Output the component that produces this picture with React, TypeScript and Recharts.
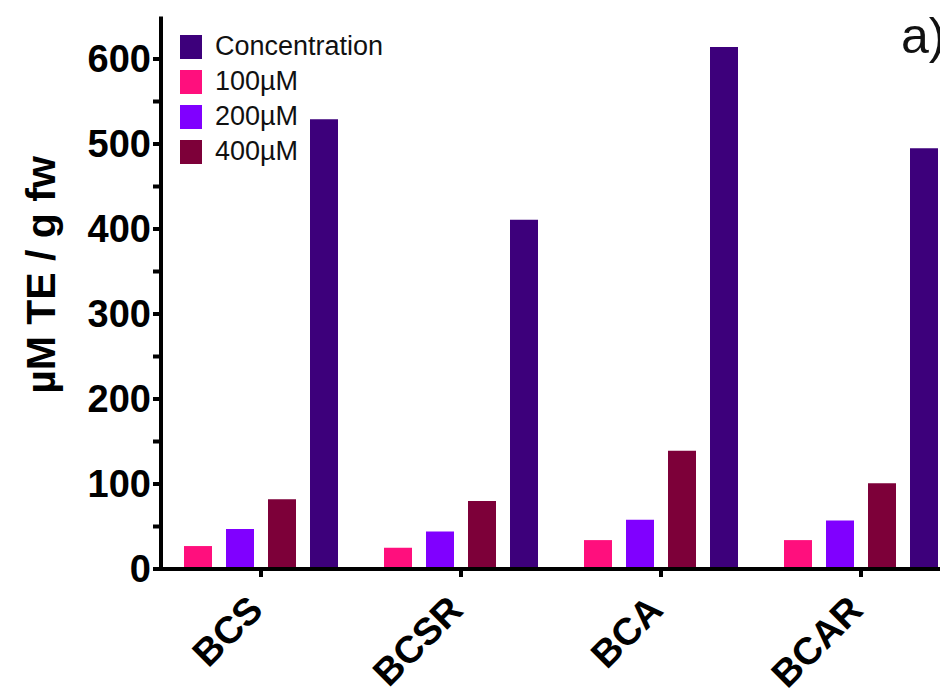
import React from 'react'
import { BarChart, Bar, XAxis, YAxis } from 'recharts'

const categories = ['BCS', 'BCSR', 'BCA', 'BCAR']
const conc100 = [27, 25, 34, 34]
const conc200 = [47, 44, 58, 57]
const conc400 = [82, 80, 139, 101]
const concentration = [529, 411, 614, 495]
const yTicks = [0, 50, 100, 150, 200, 250, 300, 350, 400, 450, 500, 550, 600]

const series = [
  { key: 'c100', name: '100µM', color: '#ff0f7d' },
  { key: 'c200', name: '200µM', color: '#8000ff' },
  { key: 'c400', name: '400µM', color: '#7d0039' },
  { key: 'conc', name: 'Concentration', color: '#3d007b' },
]
const legendOrder = ['conc', 'c100', 'c200', 'c400']

const data = categories.map((name, i) => ({
  name,
  c100: conc100[i],
  c200: conc200[i],
  c400: conc400[i],
  conc: concentration[i],
}))

const FONT = '"Liberation Sans", Arial, Helvetica, sans-serif'

// legend drawn as an overlay so it doesn't eat into the plot area
const ChartLegend = () => (
  <div style={{ position: 'absolute', top: 21, left: 172, fontFamily: FONT }}>
    {legendOrder.map((k) => {
      const s = series.find((x) => x.key === k)!
      return (
        <div key={k} style={{ display: 'flex', alignItems: 'center', height: 35 }}>
          <div style={{ width: 22, height: 24, background: s.color, marginRight: 13 }} />
          <span style={{ fontSize: 27, color: '#111', lineHeight: '35px' }}>{s.name}</span>
        </div>
      )
    })}
  </div>
)

const XTick = (props: any) => {
  const { x, y, payload } = props
  return (
    <g transform={`translate(${x + 4},${y + 33})`}>
      <text
        x={0}
        y={0}
        textAnchor="end"
        transform="rotate(-45)"
        fontFamily={FONT}
        fontWeight="bold"
        fontSize={38}
        fill="#000"
      >
        {payload.value}
      </text>
    </g>
  )
}

const YLabel = () => (
  <text
    x={33}
    y={267}
    transform="rotate(-90, 33, 267)"
    textAnchor="middle"
    dominantBaseline="central"
    fontFamily={FONT}
    fontWeight="bold"
    fontSize={41}
    fill="#000"
  >
    µM TE / g fw
  </text>
)

export default function App() {
  return (
    <div style={{ position: 'relative', width: 940, height: 690, overflow: 'hidden', background: '#fff' }}>
      <BarChart
        width={960}
        height={690}
        data={data}
        margin={{ top: 8.5, right: 7, left: 0, bottom: 0 }}
        barSize={28}
        barGap={14}
      >
        <XAxis
          dataKey="name"
          height={129}
          tick={<XTick />}
          tickSize={8}
          axisLine={{ stroke: '#000', strokeWidth: 4 }}
          tickLine={{ stroke: '#000', strokeWidth: 4 }}
          interval={0}
        />
        <YAxis
          width={153}
          domain={[0, 650]}
          ticks={yTicks}
          interval={0}
          tickSize={8}
          tickMargin={2}
          tickFormatter={(v: number) => (v % 100 === 0 ? String(v) : '')}
          tick={{ fill: '#000', fontSize: 38, fontWeight: 'bold', fontFamily: FONT }}
          axisLine={{ stroke: '#000', strokeWidth: 4 }}
          tickLine={{ stroke: '#000', strokeWidth: 4 }}
          label={<YLabel />}
        />
        {series.map((s) => (
          <Bar key={s.key} dataKey={s.key} name={s.name} fill={s.color} isAnimationActive={false} />
        ))}
      </BarChart>
      <ChartLegend />
      <div
        style={{
          position: 'absolute',
          left: 893,
          top: -1,
          fontFamily: FONT,
          fontSize: 50,
          color: '#111',
          whiteSpace: 'nowrap',
        }}
      >
        a)
      </div>
    </div>
  )
}
